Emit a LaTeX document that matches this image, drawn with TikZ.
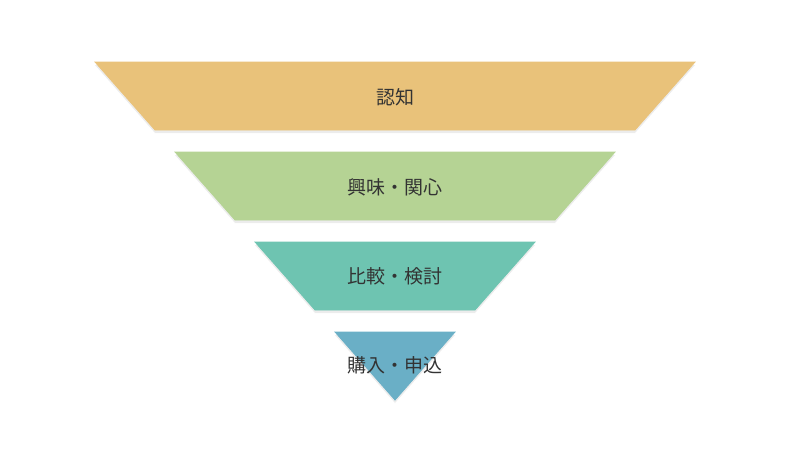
\documentclass[tikz,border=0pt]{standalone}
\usepackage{fontspec}
\newfontfamily\jpfont{Noto Sans CJK JP}
\usetikzlibrary{shadows}
\definecolor{stageA}{HTML}{E9C27A}
\definecolor{stageB}{HTML}{B5D394}
\definecolor{stageC}{HTML}{6EC4B1}
\definecolor{stageD}{HTML}{6AAFC6}
\definecolor{labeltext}{HTML}{333333}
\tikzset{
  stage/.style={draw=white, line width=0.8pt, drop shadow={shadow xshift=0pt, shadow yshift=-3pt, opacity=.15}},
  stagelabel/.style={font=\jpfont\fontsize{19}{19}\selectfont, text=labeltext}
}
\begin{document}
\begin{tikzpicture}[x=1pt, y=-1pt]
\useasboundingbox (0,0) rectangle (800,475);

\fill [stage, stageA] (95,62) -- (695,62) -- (635,130) -- (155,130) -- cycle;
\fill [stage, stageB] (175,152) -- (615,152) -- (555,220) -- (235,220) -- cycle;
\fill [stage, stageC] (255,242) -- (535,242) -- (475,310) -- (315,310) -- cycle;
\fill [stage, stageD] (335,332) -- (455,332) -- (395,400) -- cycle;

\node [stagelabel] (aware) at (395,97) {認知};
\node [stagelabel] (interest) at (395,187) {興味・関心};
\node [stagelabel] (compare) at (395,276) {比較・検討};
\node [stagelabel] (apply) at (395,365) {購入・申込};
\end{tikzpicture}
\end{document}
